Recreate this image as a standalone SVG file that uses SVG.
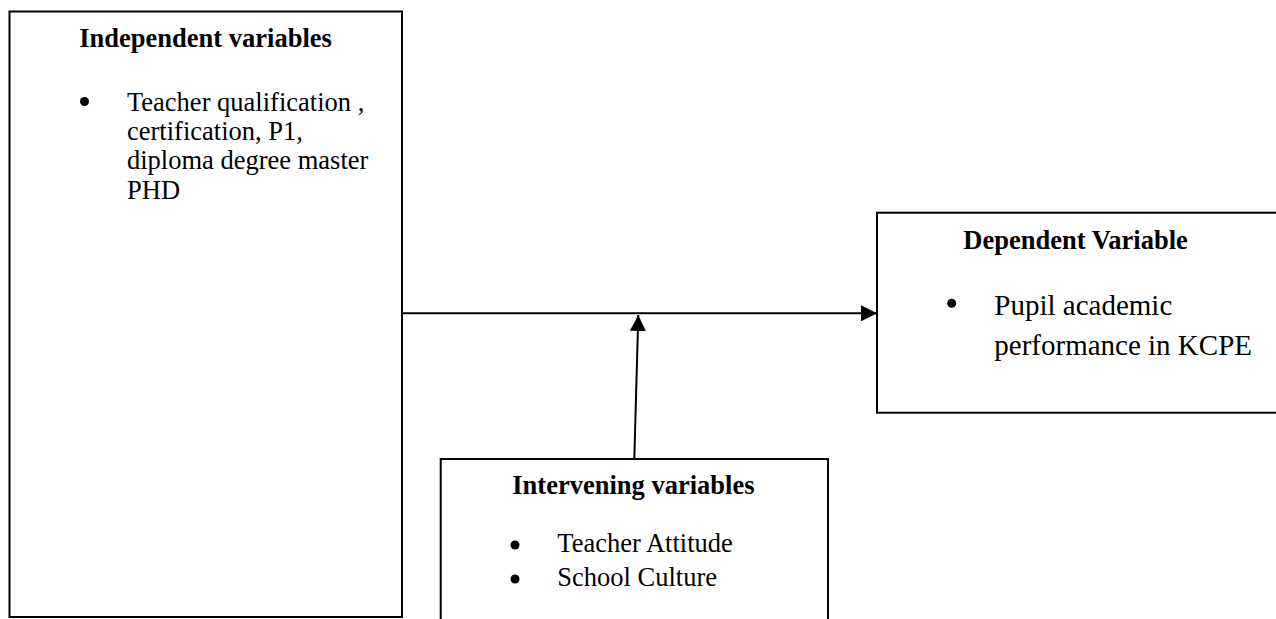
<svg xmlns="http://www.w3.org/2000/svg" width="1276" height="619" viewBox="0 0 1276 619">
  <style>
    .box { fill: #ffffff; stroke: #000000; stroke-width: 2; }
    .head { font-family: "Liberation Serif", "Times New Roman", serif; font-weight: bold; font-size: 26.5px; fill: #000; }
    .body { font-family: "Liberation Serif", "Times New Roman", serif; font-size: 26.5px; fill: #000; }
    .body29 { font-family: "Liberation Serif", "Times New Roman", serif; font-size: 29px; fill: #000; }
    .conn { fill: none; stroke: #000000; stroke-width: 2; }
    .dot { fill: #000; }
  </style>
  <defs>
    <marker id="arrow" markerUnits="userSpaceOnUse" markerWidth="16" markerHeight="16" refX="16" refY="8" orient="auto">
      <path d="M0,0 L16,8 L0,16 Z" fill="#000"/>
    </marker>
  </defs>
  <rect width="1276" height="619" fill="#ffffff"/>

  <g id="independent">
    <rect class="box" x="9.5" y="11.5" width="392.5" height="605.5"/>
    <text class="head" x="79.3" y="46.7">Independent variables</text>
    <circle class="dot" cx="84.5" cy="101.5" r="4.5"/>
    <text class="body" x="127" y="110.7">Teacher qualification ,</text>
    <text class="body" x="127" y="140">certification, P1,</text>
    <text class="body" x="127" y="169.3">diploma degree master</text>
    <text class="body" x="127" y="198.6">PHD</text>
  </g>

  <g id="dependent">
    <rect class="box" x="877" y="212.7" width="410" height="200"/>
    <text class="head" x="963.3" y="249.3">Dependent Variable</text>
    <circle class="dot" cx="951.7" cy="303.3" r="4.5"/>
    <text class="body29" x="994.3" y="315">Pupil academic</text>
    <text class="body29" x="994.3" y="355">performance in KCPE</text>
  </g>

  <g id="intervening">
    <rect class="box" x="440.7" y="459" width="387.3" height="170"/>
    <text class="head" x="512.3" y="494.3">Intervening variables</text>
    <circle class="dot" cx="515" cy="545" r="4.5"/>
    <text class="body" x="557.3" y="552.3">Teacher Attitude</text>
    <circle class="dot" cx="515" cy="579" r="4.5"/>
    <text class="body" x="557.3" y="586">School Culture</text>
  </g>

  <g id="connectors">
    <line class="conn" x1="402" y1="313.3" x2="877" y2="313.3" marker-end="url(#arrow)"/>
    <line class="conn" x1="634.3" y1="459" x2="638.3" y2="315" marker-end="url(#arrow)"/>
  </g>
</svg>
